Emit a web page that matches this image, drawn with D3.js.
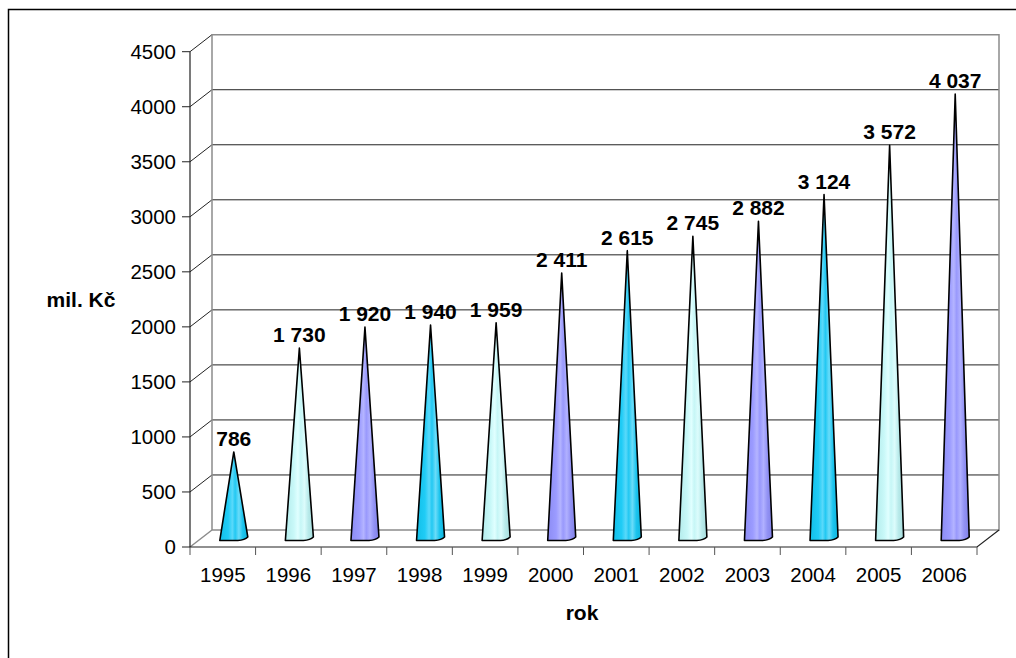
<!DOCTYPE html>
<html>
<head>
  <meta charset="utf-8">
  <title>mil. Kč podle roku</title>
  <script src="https://cdn.jsdelivr.net/npm/d3@7"></script>
  <style>
    body{ margin:0; background:#fff; font-family:"Liberation Sans", Arial, sans-serif; }
  </style>
</head>
<body>
<div id="container"></div>
<script>
  var years  = ["1995","1996","1997","1998","1999","2000","2001","2002","2003","2004","2005","2006"];
  var values = [786, 1730, 1920, 1940, 1959, 2411, 2615, 2745, 2882, 3124, 3572, 4037];
  var yTicks = [0, 500, 1000, 1500, 2000, 2500, 3000, 3500, 4000, 4500];
  var colorCycle = ["cyan", "pale", "lav"];

  var W = 1016, H = 658;
  var dx = 22, dy = -17;   // depth of the 3d box

  var svg = d3.select("#container").append("svg")
      .attr("width", W).attr("height", H);

  // outer frame (only left and top are inside the picture)
  svg.append("rect")
      .attr("x", 8.5).attr("y", 9.5)
      .attr("width", 1100).attr("height", 700)
      .attr("fill", "none").attr("stroke", "#000").attr("stroke-width", 1.5);

  var xScale = d3.scaleBand().domain(years).range([190, 977]);
  var yScale = d3.scaleLinear().domain([0, 4500]).range([547, 51.7]);

  var fmt = d3.formatLocale({decimal: ",", thousands: " ", grouping: [3], currency: ["", " Kč"]}).format(",d");

  // gradients
  var defs = svg.append("defs");
  var grads = {
    cyan: ["#12bfe8", "#20ccf6", "#5ad9fa", "#22c8f2", "#6adcf9", "#1cc4ee", "#0fb4dc"],
    pale: ["#b4ecec", "#c8f8f8", "#e0ffff", "#c6f6f6", "#dcfcfc", "#b8eaea", "#a6dcdc"],
    lav:  ["#8c8cf4", "#9b9bff", "#b4b4ff", "#9999fc", "#b0b0ff", "#9292f4", "#8080e6"]
  };
  var stopPos = [0, 0.3, 0.45, 0.55, 0.68, 0.82, 1];
  Object.keys(grads).forEach(function(k){
    var g = defs.append("linearGradient").attr("id", "g-" + k)
        .attr("x1", "0%").attr("x2", "100%").attr("y1", "0%").attr("y2", "0%");
    grads[k].forEach(function(c, i){
      g.append("stop").attr("offset", (stopPos[i] * 100) + "%").attr("stop-color", c);
    });
  });

  var x0 = xScale.range()[0], x1 = xScale.range()[1];
  var y0 = yScale(0), yTop = yScale(4500);

  // back wall gridlines
  svg.selectAll(".grid").data(yTicks.slice(1, -1)).enter().append("line")
      .attr("class", "grid")
      .attr("x1", x0 + dx).attr("x2", x1 + dx)
      .attr("y1", function(d){ return yScale(d) + dy; })
      .attr("y2", function(d){ return yScale(d) + dy; })
      .attr("stroke", "#222").attr("stroke-width", 1);

  // side wall diagonals
  svg.selectAll(".diag").data(yTicks.slice(1)).enter().append("line")
      .attr("class", "diag")
      .attr("x1", x0).attr("x2", x0 + dx)
      .attr("y1", function(d){ return yScale(d); })
      .attr("y2", function(d){ return yScale(d) + dy; })
      .attr("stroke", "#222").attr("stroke-width", 1);

  // box outline, grey edges
  var grey = "#8c8c8c";
  svg.append("path")
      .attr("d", "M" + (x0 + dx) + "," + (y0 + dy) + "V" + (yTop + dy) + "H" + (x1 + dx) + "V" + (y0 + dy) + "H" + (x0 + dx) +
                 "M" + x0 + "," + y0 + "L" + (x0 + dx) + "," + (y0 + dy))
      .attr("fill", "none").attr("stroke", grey).attr("stroke-width", 1.5);

  // front axes
  svg.append("path")
      .attr("d", "M" + x0 + "," + yTop + "V" + y0 + "H" + x1 + "L" + (x1 + dx) + "," + (y0 + dy))
      .attr("fill", "none").attr("stroke", "#222").attr("stroke-width", 1.2);

  // y ticks + labels
  svg.selectAll(".ytick").data(yTicks).enter().append("line")
      .attr("x1", x0 - 8).attr("x2", x0)
      .attr("y1", function(d){ return yScale(d); })
      .attr("y2", function(d){ return yScale(d); })
      .attr("stroke", "#222");
  svg.selectAll(".ylab").data(yTicks).enter().append("text")
      .attr("x", 176)
      .attr("y", function(d){ return yScale(d) + 7; })
      .attr("text-anchor", "end")
      .style("font-size", "20.5px")
      .text(function(d){ return d; });

  // x ticks + labels
  var bounds = years.map(function(y){ return xScale(y); }).concat([x1]);
  svg.selectAll(".xtick").data(bounds).enter().append("line")
      .attr("x1", function(d){ return d; }).attr("x2", function(d){ return d; })
      .attr("y1", y0).attr("y2", y0 + 8)
      .attr("stroke", "#555");
  svg.selectAll(".xlab").data(years).enter().append("text")
      .attr("x", function(d){ return xScale(d) + xScale.bandwidth() / 2; })
      .attr("y", 582)
      .attr("text-anchor", "middle")
      .style("font-size", "20.5px")
      .text(function(d){ return d; });

  // axis titles
  svg.append("text").attr("x", 582).attr("y", 620).attr("text-anchor", "middle")
      .style("font-size", "21px").style("font-weight", "bold").text("rok");
  svg.append("text").attr("x", 81).attr("y", 307).attr("text-anchor", "middle")
      .style("font-size", "21px").style("font-weight", "bold").text("mil. Kč");

  // cones
  var by = y0 + dy / 2;
  var cone = svg.selectAll(".cone").data(years).enter().append("g").attr("class", "cone");
  cone.append("path")
      .attr("d", function(d, i){
        var cx = xScale(d) + xScale.bandwidth() / 2 + dx / 2;
        var ay = yScale(values[i]) + dy / 2;
        return "M" + cx + "," + ay +
               "L" + (cx - 14) + "," + (by + 2) +
               "L" + (cx + 4) + "," + (by + 2) +
               "Q" + (cx + 11) + "," + (by + 1.5) + " " + (cx + 14) + "," + (by - 1.5) + "Z";
      })
      .attr("fill", function(d, i){ return "url(#g-" + colorCycle[i % 3] + ")"; })
      .attr("stroke", "#000").attr("stroke-width", 1.6).attr("stroke-linejoin", "round");

  cone.append("text")
      .attr("x", function(d){ return xScale(d) + xScale.bandwidth() / 2 + dx / 2; })
      .attr("y", function(d, i){ return yScale(values[i]) + dy / 2 - 6; })
      .attr("text-anchor", "middle")
      .style("font-size", "21px").style("font-weight", "bold")
      .text(function(d, i){ return fmt(values[i]); });
</script>
</body>
</html>
